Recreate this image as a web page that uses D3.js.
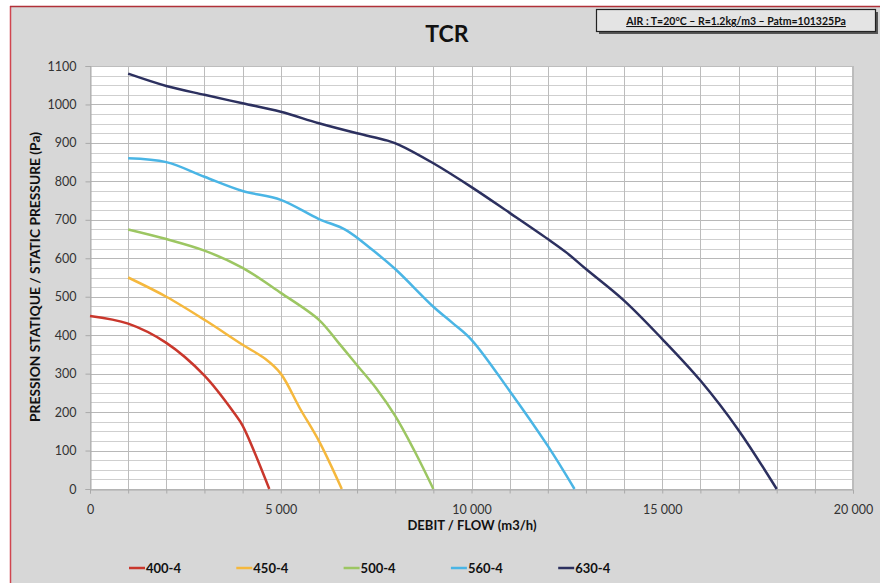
<!DOCTYPE html>
<html><head><meta charset="utf-8">
<script src="https://cdn.jsdelivr.net/npm/d3@7/dist/d3.min.js"></script>
<style>
html,body{margin:0;padding:0;background:#fff;}
svg{display:block;font-family:Lato,"Open Sans",sans-serif;}
</style></head>
<body><svg id="c" width="880" height="583"></svg>
<script>
const seriesNames = ["400-4","450-4","500-4","560-4","630-4"];
const seriesColors = ["#c9372c","#f5b83d","#9cc662","#4ab5e5","#2c305f"];
const s400 = [[0,450],[1000,430],[2000,380],[3000,295],[3800,195],[4000,165],[4700,0]];
const s450 = [[1000,550],[2000,500],[3000,440],[4000,375],[4600,338],[5000,300],[5500,210],[6000,125],[6600,0]];
const s500 = [[1000,675],[2000,650],[3000,620],[4000,575],[5000,510],[6000,440],[6500,382],[7000,322],[7500,262],[8000,190],[8500,100],[9000,0]];
const s560 = [[1000,860],[2000,850],[3000,812],[4000,775],[5000,752],[6000,702],[6700,674],[7400,622],[8000,572],[9000,474],[9500,432],[10000,388],[11000,255],[12000,112],[12700,0]];
const s630 = [[1000,1080],[2000,1048],[3000,1025],[4000,1003],[5000,981],[6000,951],[7000,925],[7800,906],[8100,895],[9000,847],[10000,785],[11000,718],[12000,650],[12500,614],[13000,572],[14000,490],[15000,390],[16000,282],[17000,153],[18000,0]];
const seriesData = [s400,s450,s500,s560,s630];
const xTicks = [0,5000,10000,15000,20000];
const yTicks = [0,100,200,300,400,500,600,700,800,900,1000,1100];
const title = "TCR";
const note = "AIR : T=20°C – R=1.2kg/m3 – Patm=101325Pa";
const xTitle = "DEBIT / FLOW (m3/h)";
const yTitle = "PRESSION STATIQUE / STATIC PRESSURE (Pa)";

const svg = d3.select("#c");
svg.append("rect").attr("x",10).attr("y",6).attr("width",880).attr("height",600).attr("fill","#d7d7d7");
svg.append("line").attr("x1",10.5).attr("x2",10.5).attr("y1",6).attr("y2",583).attr("stroke","#d0454f").attr("stroke-width",1.5);
svg.append("line").attr("x1",10).attr("x2",880).attr("y1",6.5).attr("y2",6.5).attr("stroke","#b03038").attr("stroke-width",1.5);

const L=90,R=853,T=66,B=489;
const x = d3.scaleLinear().domain([0,20000]).range([L,R]);
const y = d3.scaleLinear().domain([0,1100]).range([B,T]);

svg.append("rect").attr("x",L).attr("y",T).attr("width",R-L).attr("height",B-T).attr("fill","#ffffff");
const g = svg.append("g");
d3.range(0,1101,25).forEach(v=>{
  if(v%100!==0) g.append("line").attr("x1",L).attr("x2",R).attr("y1",Math.round(y(v))+0.5).attr("y2",Math.round(y(v))+0.5).attr("stroke","#cfcfcf").attr("stroke-width",1);
});
d3.range(0,1101,100).forEach(v=>{
  g.append("line").attr("x1",L).attr("x2",R).attr("y1",Math.round(y(v))+0.5).attr("y2",Math.round(y(v))+0.5).attr("stroke","#b8b8b8").attr("stroke-width",1);
});
d3.range(0,20001,1000).forEach(v=>{
  g.append("line").attr("x1",Math.round(x(v))+0.5).attr("x2",Math.round(x(v))+0.5).attr("y1",T).attr("y2",B).attr("stroke","#bcbcbc").attr("stroke-width",1);
});
svg.append("rect").attr("x",L+0.5).attr("y",T+0.5).attr("width",R-L-1).attr("height",B-T).attr("fill","none").attr("stroke","#bdbdbd");

const fmt = d => d===0 ? "0" : d3.format(",")(d).replace(/,/g," ");
const xa = svg.append("g").attr("transform",`translate(0,${B+0.5})`).call(d3.axisBottom(x).tickValues(d3.range(0,20001,1000)).tickSize(4).tickFormat(""));
xa.select(".domain").attr("stroke","#aaaaaa");
xa.selectAll(".tick line").attr("stroke","#aaaaaa");
const xl = svg.append("g").attr("transform",`translate(0,${B})`).call(d3.axisBottom(x).tickValues(xTicks).tickSize(0).tickPadding(16).tickFormat(fmt));
xl.select(".domain").remove();
xl.selectAll("text").attr("font-size",12.5).attr("fill","#333").attr("font-family","Lato,sans-serif");

const ya = svg.append("g").attr("transform",`translate(${L+0.5},0)`).call(d3.axisLeft(y).tickValues(yTicks).tickSize(5).tickFormat(d3.format("d")).tickPadding(9));
ya.select(".domain").attr("stroke","#aaaaaa");
ya.selectAll(".tick line").attr("stroke","#aaaaaa");
ya.selectAll("text").attr("font-size",12.5).attr("fill","#333").attr("font-family","Lato,sans-serif");

const line = d3.line().x(d=>x(d[0])).y(d=>y(d[1])).curve(d3.curveCatmullRom.alpha(0.5));
seriesData.forEach((s,i)=>{
  svg.append("path").attr("d",line(s)).attr("fill","none").attr("stroke",seriesColors[i]).attr("stroke-width",2.5).attr("stroke-linejoin","round");
});

svg.append("text").attr("x",447).attr("y",42).attr("text-anchor","middle").attr("font-size",23).attr("font-weight","bold").attr("fill","#111").text(title);
svg.append("text").attr("x",472).attr("y",530).attr("text-anchor","middle").attr("font-size",13).attr("font-weight","bold").attr("fill","#111").text(xTitle);
svg.append("text").attr("transform","translate(40,277) rotate(-90)").attr("text-anchor","middle").attr("font-size",13.8).attr("font-weight","bold").attr("fill","#111").text(yTitle);

svg.append("rect").attr("x",599).attr("y",12).attr("width",279).attr("height",22).attr("fill","#555");
svg.append("rect").attr("x",596.5).attr("y",9.5).attr("width",279).attr("height",22).attr("fill","#e4e4e4").attr("stroke","#222").attr("stroke-width",1.2);
svg.append("text").attr("x",736).attr("y",25).attr("text-anchor","middle").attr("font-size",10.5).attr("font-weight","bold").attr("fill","#111").attr("text-decoration","underline").text(note);

const lg = svg.append("g");
seriesNames.forEach((n,i)=>{
  const lx = 129 + i*107.3;
  lg.append("line").attr("x1",lx).attr("x2",lx+16).attr("y1",568).attr("y2",568).attr("stroke",seriesColors[i]).attr("stroke-width",2.5);
  lg.append("text").attr("x",lx+17).attr("y",572.5).attr("font-size",13).attr("font-weight","bold").attr("fill","#111").text(n);
});
</script></body></html>
